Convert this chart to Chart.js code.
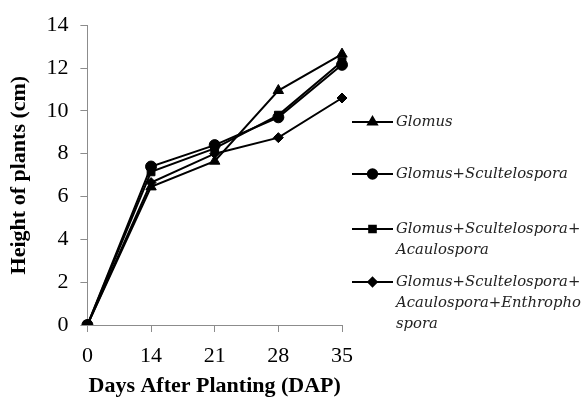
<!DOCTYPE html>
<html>
<head>
<meta charset="utf-8">
<script src="https://cdn.jsdelivr.net/npm/chart.js@4.4.1/dist/chart.umd.min.js"></script>
<style>
  html, body { margin: 0; padding: 0; background: #fff; }
  #wrap { width: 586px; height: 397px; position: relative; }
</style>
</head>
<body>
<div id="wrap"><canvas id="plantChart"></canvas></div>
<script>
// --- Data ---
const days = ['0', '14', '21', '28', '35'];

const glomus = [0, 6.45, 7.65, 10.95, 12.65];
const glomusScult = [0, 7.4, 8.4, 9.7, 12.15];
const glomusScultAcau = [0, 7.15, 8.25, 9.8, 12.3];
const glomusScultAcauEnth = [0, 6.65, 8.0, 8.75, 10.6];

const seriesNames = [
    ['Glomus'],
    ['Glomus+Scultelospora'],
    ['Glomus+Scultelospora+', 'Acaulospora'],
    ['Glomus+Scultelospora+', 'Acaulospora+Enthropho', 'spora']
];
const markers = ['triangle', 'circle', 'rect', 'rectRot'];
const markerSizes = [6, 5.5, 5.5, 5];

const SERIF = "'Liberation Serif', 'Times New Roman', serif";
const LEGEND_FONT = "italic 14.8px 'DejaVu Serif', serif";

// --- Legend drawn beside the plot ---
const sideLegend = {
    id: 'sideLegend',
    afterDraw(chart) {
        const ctx = chart.ctx;
        const rowsY = [122, 174, 229, 282];
        const lineX0 = 352, lineX1 = 393, textX = 396;
        ctx.save();
        chart.data.datasets.forEach((ds, i) => {
            const y = rowsY[i];
            ctx.strokeStyle = '#000';
            ctx.lineWidth = 2;
            ctx.beginPath();
            ctx.moveTo(lineX0, y);
            ctx.lineTo(lineX1, y);
            ctx.stroke();
            ctx.fillStyle = '#000';
            Chart.helpers.drawPoint(ctx, {
                pointStyle: ds.pointStyle,
                radius: ds.pointRadius * 0.85,
                rotation: 0,
                borderWidth: 1
            }, (lineX0 + lineX1) / 2, y);
            ctx.font = LEGEND_FONT;
            ctx.textBaseline = 'middle';
            ctx.textAlign = 'left';
            ctx.fillStyle = '#222';
            seriesNames[i].forEach((line, j) => {
                ctx.fillText(line, textX, y + j * 21);
            });
        });
        ctx.restore();
    }
};

function makeSet(idx, values) {
    return {
        label: seriesNames[idx].join(''),
        data: values,
        borderColor: '#000',
        backgroundColor: '#000',
        borderWidth: 2,
        pointStyle: markers[idx],
        pointRadius: markerSizes[idx],
        pointBorderWidth: 1,
        pointBackgroundColor: '#000',
        pointBorderColor: '#000',
        tension: 0,
        fill: false
    };
}

const ctx = document.getElementById('plantChart').getContext('2d');
const plantChart = new Chart(ctx, {
    type: 'line',
    data: {
        labels: days,
        datasets: [
            makeSet(0, glomus),
            makeSet(1, glomusScult),
            makeSet(2, glomusScultAcau),
            makeSet(3, glomusScultAcauEnth)
        ]
    },
    options: {
        responsive: true,
        maintainAspectRatio: false,
        animation: false,
        layout: { padding: { top: 8, right: 244, left: 6, bottom: 0 } },
        plugins: {
            legend: { display: false },
            tooltip: { enabled: false }
        },
        scales: {
            x: {
                offset: false,
                grid: { display: true, drawOnChartArea: false, drawTicks: true, tickLength: 7, color: '#8c8c8c' },
                border: { color: '#8c8c8c', width: 1 },
                ticks: { color: '#000', font: { family: SERIF, size: 22, lineHeight: 1 }, padding: 13, maxRotation: 0 },
                title: {
                    display: true,
                    text: 'Days After Planting (DAP)',
                    color: '#000',
                    font: { family: SERIF, size: 22, weight: 'bold', lineHeight: 1 },
                    padding: { top: -5, bottom: 0 }
                }
            },
            y: {
                min: 0,
                max: 14,
                ticks: { stepSize: 2, color: '#000', font: { family: SERIF, size: 22 }, padding: 12 },
                grid: { display: true, drawOnChartArea: false, drawTicks: true, tickLength: 7, color: '#8c8c8c' },
                border: { color: '#8c8c8c', width: 1 },
                title: {
                    display: true,
                    text: 'Height of plants (cm)',
                    color: '#000',
                    font: { family: SERIF, size: 22, weight: 'bold' },
                    padding: { top: 0, bottom: 2 }
                }
            }
        }
    },
    plugins: [sideLegend]
});
</script>
</body>
</html>
